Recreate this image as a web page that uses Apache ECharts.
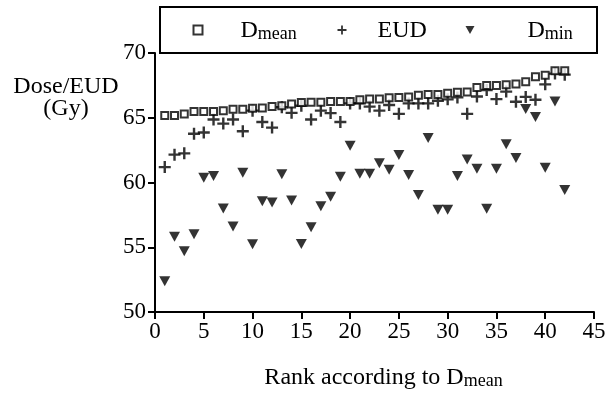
<!DOCTYPE html>
<html>
<head>
<meta charset="utf-8">
<script src="https://cdn.jsdelivr.net/npm/echarts@6/dist/echarts.min.js"></script>
<style>html,body{margin:0;padding:0;background:#fff;}#c{width:614px;height:395px;}</style>
</head>
<body>
<div id="c"></div>
<script>
var ranks = [1,2,3,4,5,6,7,8,9,10,11,12,13,14,15,16,17,18,19,20,21,22,23,24,25,26,27,28,29,30,31,32,33,34,35,36,37,38,39,40,41,42];
var dmean = [65.17,65.17,65.28,65.48,65.48,65.48,65.55,65.66,65.66,65.73,65.76,65.86,65.93,66.06,66.17,66.19,66.19,66.26,66.26,66.26,66.39,66.44,66.44,66.54,66.56,66.61,66.74,66.8,66.8,66.9,66.96,66.99,67.33,67.5,67.5,67.54,67.6,67.78,68.16,68.28,68.62,68.62];
var eud = [61.19,62.15,62.25,63.77,63.86,64.87,64.55,64.87,63.96,65.55,64.67,64.24,65.81,65.38,65.93,64.87,65.55,65.36,64.67,66.11,66.11,65.86,65.55,65.98,65.3,66.11,66.11,66.11,66.31,66.42,66.57,65.3,66.64,67.14,66.44,67.02,66.24,66.61,66.39,67.58,68.41,68.33];
var dmin = [52.37,55.81,54.7,56.0,60.36,60.51,58.0,56.61,60.76,55.23,58.56,58.46,60.63,58.61,55.25,56.54,58.16,58.89,60.45,62.83,60.68,60.68,61.49,60.98,62.12,60.58,59.04,63.43,57.9,57.9,60.51,61.77,61.06,57.98,61.06,62.95,61.89,65.68,65.05,61.14,66.26,59.42];
var xTicks = [0,5,10,15,20,25,30,35,40,45];
var yTicks = [50,55,60,65,70];

function pairs(v){ return ranks.map(function(r,i){ return [r, v[i]]; }); }

var FONT = 'Liberation Serif';
var PLUS = 'path://M4.4,0H6.6V4.4H11V6.6H6.6V11H4.4V6.6H0V4.4H4.4Z';
var TRI = 'path://M0,0L10,0L5,9Z';
var rich = {
  b: {fontFamily: FONT, fontSize: 24, color: '#000', verticalAlign: 'bottom', lineHeight: 26},
  s: {fontFamily: FONT, fontSize: 18, color: '#000', verticalAlign: 'bottom', lineHeight: 24}
};
function legendFmt(name){
  if (name === 'Dmean') return '{b|D}{s|mean}';
  if (name === 'Dmin') return '{b|D}{s|min}';
  return '{b|' + name + '}';
}
function mkLegend(name, left){
  return {
    data: [name], left: left, top: 19, orient: 'horizontal',
    itemWidth: 9, itemHeight: 9, padding: 0,
    formatter: legendFmt,
    textStyle: {fontFamily: FONT, fontSize: 24, color: '#000', rich: rich,
      padding: [0,0,0, name === 'Dmean' ? 33 : (name === 'EUD' ? 26 : 48)]}
  };
}

var chart = echarts.init(document.getElementById('c'));
chart.setOption({
  animation: false,
  backgroundColor: '#fff',
  grid: {left: 155, right: 20, top: 53, bottom: 77.5, containLabel: false},
  legend: [mkLegend('Dmean', 192.5), mkLegend('EUD', 337.5), mkLegend('Dmin', 465.5)],
  graphic: [
    {type: 'rect', shape: {x: 160, y: 7, width: 437, height: 46}, style: {fill: 'none', stroke: '#000', lineWidth: 2}, z: 10},
    {type: 'text', x: 66, y: 76, style: {text: 'Dose/EUD\n(Gy)', fontFamily: FONT, fontSize: 24, lineHeight: 22, fill: '#000', align: 'center', verticalAlign: 'top'}}
  ],
  xAxis: {
    type: 'value', min: xTicks[0], max: xTicks[xTicks.length-1], interval: 5,
    splitLine: {show: false},
    axisLine: {lineStyle: {color: '#000', width: 2}},
    axisTick: {length: 7, lineStyle: {color: '#000', width: 2}},
    axisLabel: {fontFamily: FONT, fontSize: 23, color: '#000', margin: 8},
    name: '{b|Rank according to D}{s|mean}',
    nameLocation: 'middle', nameGap: 52,
    nameTextStyle: {rich: rich, padding: [0,0,0,18]}
  },
  yAxis: {
    type: 'value', min: yTicks[0], max: yTicks[yTicks.length-1], interval: 5,
    splitLine: {show: false},
    axisLine: {show: true, lineStyle: {color: '#000', width: 2}},
    axisTick: {show: true, length: 7, lineStyle: {color: '#000', width: 2}},
    axisLabel: {fontFamily: FONT, fontSize: 23, color: '#000', margin: 9}
  },
  series: [
    {name: 'Dmin', type: 'scatter', data: pairs(dmin), symbol: TRI, symbolSize: [11, 10],
      itemStyle: {color: '#000'}, z: 2},
    {name: 'EUD', type: 'scatter', data: pairs(eud), symbol: PLUS, symbolSize: 12,
      itemStyle: {color: '#000'}, z: 3},
    {name: 'Dmean', type: 'scatter', data: pairs(dmean), symbol: 'rect', symbolSize: 7,
      itemStyle: {color: '#fff', borderColor: '#000', borderWidth: 2}, z: 4}
  ]
});
</script>
</body>
</html>
